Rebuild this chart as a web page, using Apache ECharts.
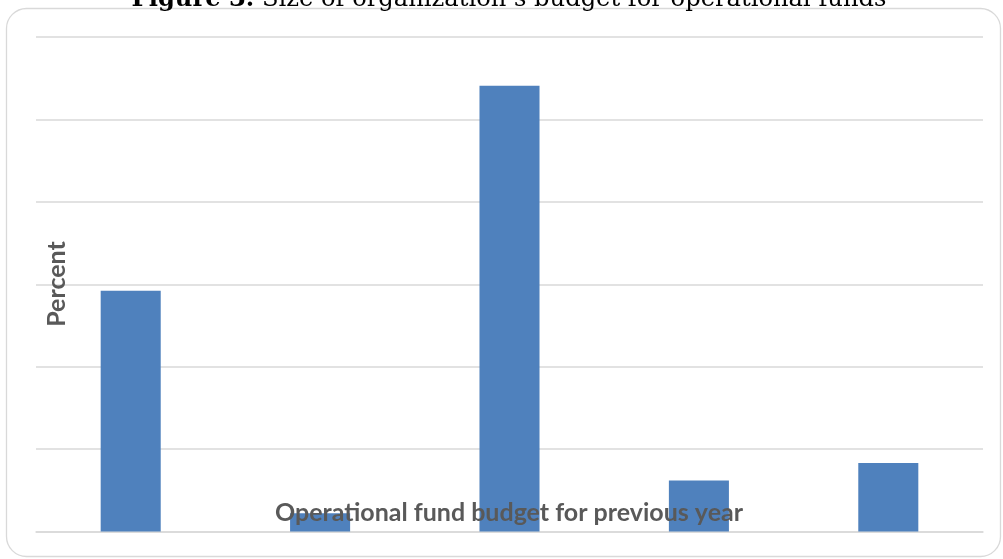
<!DOCTYPE html>
<html>
<head>
<meta charset="utf-8">
<script src="https://cdn.jsdelivr.net/npm/echarts@6/dist/echarts.min.js"></script>
<style>
  html, body { margin: 0; padding: 0; background: #fff; }
  #chart { width: 1003px; height: 559px; }
</style>
</head>
<body>
<div id="chart"></div>
<script>
// Budget bands (axis labels are not shown on this chart)
const categories = ['Band 1', 'Band 2', 'Band 3', 'Band 4', 'Band 5'];
// Share of organizations in each band, percent
const percentValues = [29.2, 2.2, 54.1, 6.2, 8.3];
// Value axis range
const yMin = 0;
const yMax = 60;
const yStep = 10;

const chart = echarts.init(document.getElementById('chart'), null, { renderer: 'canvas' });

chart.setOption({
  animation: false,
  backgroundColor: '#ffffff',
  grid: { left: 36, right: 20, top: 37, bottom: 27.5, containLabel: false },
  xAxis: {
    type: 'category',
    data: categories,
    axisLine: { show: true, lineStyle: { color: '#d9d9d9', width: 1.5 } },
    axisTick: { show: false },
    axisLabel: { show: false },
    splitLine: { show: false }
  },
  yAxis: {
    type: 'value',
    min: yMin,
    max: yMax,
    interval: yStep,
    axisLine: { show: false },
    axisTick: { show: false },
    axisLabel: { show: false },
    splitLine: { show: true, lineStyle: { color: '#d9d9d9', width: 1.5 } }
  },
  series: [{
    type: 'bar',
    data: percentValues,
    barWidth: '31.7%',
    itemStyle: { color: '#4f81bd' },
    z: 2
  }],
  graphic: [
    {
      type: 'rect',
      z: 0,
      silent: true,
      shape: { x: 6.5, y: 8.5, width: 994, height: 548, r: 20 },
      style: { fill: 'none', stroke: '#d9d9d9', lineWidth: 1.3 }
    },
    {
      type: 'text',
      z: 100,
      silent: true,
      style: {
        text: '{b|Figure 3.} Size of organization\u2019s budget for operational funds',
        x: 509,
        y: 12,
        align: 'center',
        verticalAlign: 'bottom',
        fill: '#000',
        font: '24.2px "DejaVu Serif"',
        rich: {
          b: { fontWeight: 'bold', fontSize: 24.2, fontFamily: 'DejaVu Serif', fill: '#000' }
        }
      }
    },
    {
      type: 'text',
      z: 100,
      silent: true,
      style: {
        text: 'Operational fund budget for previous year',
        x: 509,
        y: 513,
        align: 'center',
        verticalAlign: 'middle',
        fill: '#595959',
        font: 'bold 25px Lato'
      }
    },
    {
      type: 'text',
      z: 100,
      silent: true,
      x: 57,
      y: 284,
      rotation: Math.PI / 2,
      style: {
        text: 'Percent',
        x: 0,
        y: 0,
        align: 'center',
        verticalAlign: 'middle',
        fill: '#595959',
        font: 'bold 25px Lato'
      }
    }
  ]
});
</script>
</body>
</html>
